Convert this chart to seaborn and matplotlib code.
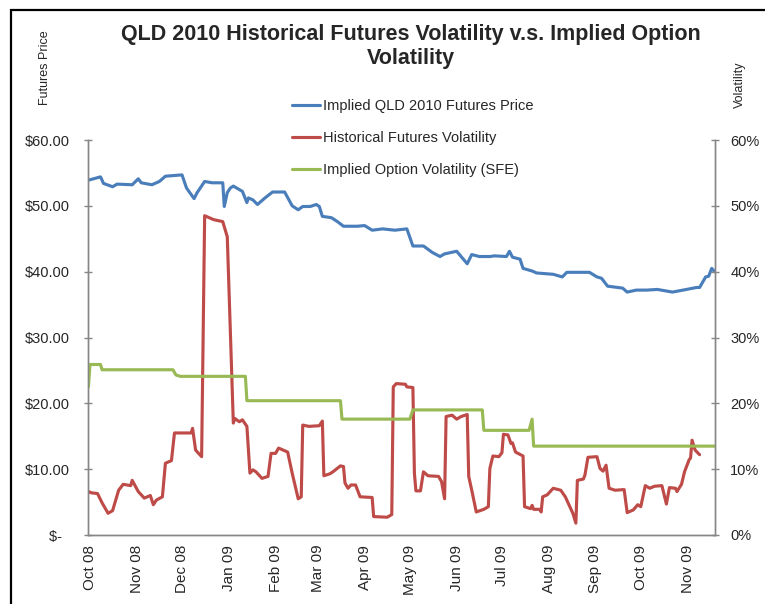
import pandas as pd
import seaborn as sns
import matplotlib.pyplot as plt
from matplotlib.patches import Rectangle

# days are counted from 1 Oct 2008
start = pd.Timestamp("2008-10-01")

# Implied QLD 2010 futures price ($)
price_days = [-1, 7, 9, 15, 18, 28, 32, 34, 41, 46, 50, 61, 64, 69, 71, 76, 81, 88, 89, 91,
              93, 95, 101, 104, 105, 108, 111, 116, 121, 129, 134, 138, 141, 146, 150, 152,
              154, 160, 164, 168, 177, 182, 187, 194, 202, 210, 214, 221, 227, 232, 235,
              243, 250, 253, 258, 265, 268, 276, 278, 280, 285, 287, 293, 296, 307, 313,
              316, 331, 336, 339, 343, 353, 356, 362, 369, 376, 386, 393, 402, 404, 408,
              410, 412, 414]
price_vals = [53.9, 54.4, 53.4, 52.9, 53.3, 53.2, 54.1, 53.5, 53.2, 53.7, 54.5, 54.7, 52.7,
              51.1, 52.0, 53.7, 53.5, 53.5, 49.9, 52.0, 52.7, 53.0, 52.2, 50.5, 51.2, 50.9,
              50.2, 51.2, 52.1, 52.1, 50.0, 49.4, 49.9, 49.9, 50.2, 49.9, 48.4, 48.2, 47.6,
              46.9, 46.9, 47.0, 46.3, 46.5, 46.3, 46.5, 43.9, 43.9, 42.9, 42.3, 42.7, 43.1,
              41.2, 42.6, 42.3, 42.3, 42.4, 42.3, 43.1, 42.2, 41.9, 40.5, 40.1, 39.8, 39.6,
              39.2, 39.9, 39.9, 39.2, 39.0, 37.8, 37.5, 36.9, 37.2, 37.2, 37.3, 36.9, 37.2,
              37.6, 37.6, 39.2, 39.3, 40.5, 40.0]

# Historical futures volatility (%)
hist_days = [-1, 1, 5, 8, 12, 15, 19, 22, 27, 28, 32, 36, 40, 42, 44, 48, 50, 54, 56, 67,
             68, 70, 74, 76, 78, 82, 88, 91, 95, 96, 99, 101, 104, 106, 108, 110, 114, 118,
             120, 123, 125, 131, 134, 138, 140, 141, 145, 152, 154, 155, 159, 161, 166, 168,
             169, 171, 173, 176, 179, 187, 188, 197, 200, 201, 203, 209, 210, 214, 215, 216,
             219, 221, 224, 231, 233, 235, 236, 240, 243, 246, 250, 251, 253, 256, 261, 264,
             265, 267, 271, 273, 274, 277, 279, 280, 282, 287, 288, 292, 293, 294, 298, 299,
             300, 303, 307, 312, 315, 318, 320, 322, 323, 327, 328, 330, 336, 338, 340, 342,
             344, 348, 354, 356, 360, 363, 365, 368, 371, 374, 379, 382, 384, 388, 389, 392,
             394, 397, 398, 399, 401, 404]
hist_vol = [6.6, 6.4, 6.3, 4.9, 3.3, 3.7, 6.8, 7.7, 7.5, 8.3, 6.6, 5.6, 6.0, 4.6, 5.3, 5.8,
            10.9, 11.3, 15.5, 15.5, 16.2, 12.9, 11.9, 48.5, 48.3, 47.9, 47.6, 45.3, 17.0,
            17.7, 17.2, 17.5, 16.5, 9.4, 9.9, 9.6, 8.6, 8.9, 12.4, 12.4, 13.2, 12.6, 9.4,
            5.5, 5.8, 16.7, 16.5, 16.6, 17.3, 9.0, 9.3, 9.6, 10.5, 10.4, 7.9, 7.1, 7.6, 7.6,
            5.8, 5.7, 2.8, 2.7, 3.1, 22.5, 23.0, 22.9, 22.5, 22.4, 9.4, 6.7, 6.7, 9.6, 9.0,
            8.9, 8.1, 5.5, 18.0, 18.2, 17.6, 18.0, 18.3, 8.9, 6.8, 3.5, 3.9, 4.3, 10.1, 12.0,
            11.9, 12.5, 15.3, 15.2, 13.9, 14.0, 12.6, 12.0, 4.3, 4.0, 4.5, 3.9, 3.9, 3.5,
            5.8, 6.1, 7.1, 6.8, 5.8, 4.3, 3.3, 1.8, 8.3, 8.5, 9.1, 11.8, 11.9, 10.1, 9.7,
            10.6, 7.1, 6.8, 6.9, 3.4, 3.8, 4.6, 4.3, 7.5, 7.1, 7.4, 7.5, 4.7, 7.2, 7.1, 6.6,
            7.7, 9.6, 11.4, 11.7, 14.4, 12.9, 12.2]

# Implied option volatility from SFE (%)
opt_days = [-1, 0, 7, 8, 55, 57, 60, 103, 104, 166, 167, 212, 214, 260, 261, 291, 293, 294, 414]
opt_vol = [22.5, 25.9, 25.9, 25.1, 25.1, 24.3, 24.1, 24.1, 20.4, 20.4, 17.6, 17.6, 19.0, 19.0,
           15.9, 15.9, 17.6, 13.5, 13.5]

month_starts = ["2008-10-01", "2008-11-01", "2008-12-01", "2009-01-01", "2009-02-01",
                "2009-03-01", "2009-04-01", "2009-05-01", "2009-06-01", "2009-07-01",
                "2009-08-01", "2009-09-01", "2009-10-01", "2009-11-01"]
month_labels = ["Oct 08", "Nov 08", "Dec 08", "Jan 09", "Feb 09", "Mar 09", "Apr 09",
                "May 09", "Jun 09", "Jul 09", "Aug 09", "Sep 09", "Oct 09", "Nov 09"]
price_ticks = [0, 10, 20, 30, 40, 50, 60]
vol_ticks = [0, 10, 20, 30, 40, 50, 60]


def to_dates(days):
    return start + pd.to_timedelta(days, unit="D")


sns.set_style("white")
plt.rcParams["font.family"] = ["Liberation Sans", "DejaVu Sans"]

blue = "#4A7EBB"
red = "#BE4B48"
green = "#98B954"
grey = "#868686"

fig = plt.figure(figsize=(7.65, 6.04), dpi=100)
ax = fig.add_axes([88 / 765, 1 - 535 / 604, (715 - 88) / 765, (535 - 140) / 604])
ax2 = ax.twinx()

sns.lineplot(x=to_dates(price_days), y=price_vals, ax=ax, color=blue, linewidth=2.25,
             estimator=None, sort=False, label="Implied QLD 2010 Futures Price")
sns.lineplot(x=to_dates(hist_days), y=hist_vol, ax=ax2, color=red, linewidth=2.25,
             estimator=None, sort=False, label="Historical Futures Volatility")
sns.lineplot(x=to_dates(opt_days), y=opt_vol, ax=ax2, color=green, linewidth=2.25,
             estimator=None, sort=False, label="Implied Option Volatility (SFE)")

h1, l1 = ax.get_legend_handles_labels()
h2, l2 = ax2.get_legend_handles_labels()
ax.get_legend().remove()
ax2.get_legend().remove()

ax.set_xlim(start - pd.Timedelta(days=1.3), start + pd.Timedelta(days=414.2))
ax.set_ylim(0, 60)
ax2.set_ylim(0, 60)

ax.set_xticks(pd.to_datetime(month_starts))
ax.set_xticklabels(month_labels, rotation=90, fontsize=11)
ax.tick_params(axis="x", length=0, pad=7)

ax.set_yticks(price_ticks)
ax.set_yticklabels([f"${v:.2f}" if v else "$-  " for v in price_ticks], fontsize=10.5)
ax.tick_params(axis="y", direction="inout", length=6, width=1, color=grey, pad=10)
ax2.set_yticks(vol_ticks)
ax2.set_yticklabels([f"{v}%" for v in vol_ticks], fontsize=10.5)
ax2.tick_params(axis="y", direction="inout", length=6, width=1, color=grey, pad=8)

ax.set_xlabel("")
ax.set_ylabel("")
ax2.set_ylabel("")
for a in (ax, ax2):
    a.spines["top"].set_visible(False)
    for s in ("left", "right", "bottom"):
        a.spines[s].set_color(grey)
        a.spines[s].set_linewidth(1)

fig.text(411 / 765, 1 - 24 / 604,
         "QLD 2010 Historical Futures Volatility v.s. Implied Option\nVolatility",
         ha="center", va="top", fontsize=15.5, fontweight="bold", linespacing=1.2)
fig.text(45 / 765, 1 - 68 / 604, "Futures Price", rotation=90, ha="center", va="center",
         fontsize=9)
fig.text(740 / 765, 1 - 85 / 604, "Volatility", rotation=90, ha="center", va="center",
         fontsize=9)

fig.legend(h1 + h2, l1 + l2, loc="upper left", bbox_to_anchor=(292 / 765, 1 - 99 / 604),
           frameon=False, fontsize=10.5, handlelength=1.9, handletextpad=0.2,
           labelspacing=1.25, borderpad=0, borderaxespad=0)

# outer chart border
fig.patches.append(Rectangle((11 / 765, -0.1), 1.1, 1.1 - 10 / 604,
                             transform=fig.transFigure, fill=False, edgecolor="black",
                             linewidth=1.6))

fig.savefig("out.png", dpi=100)
